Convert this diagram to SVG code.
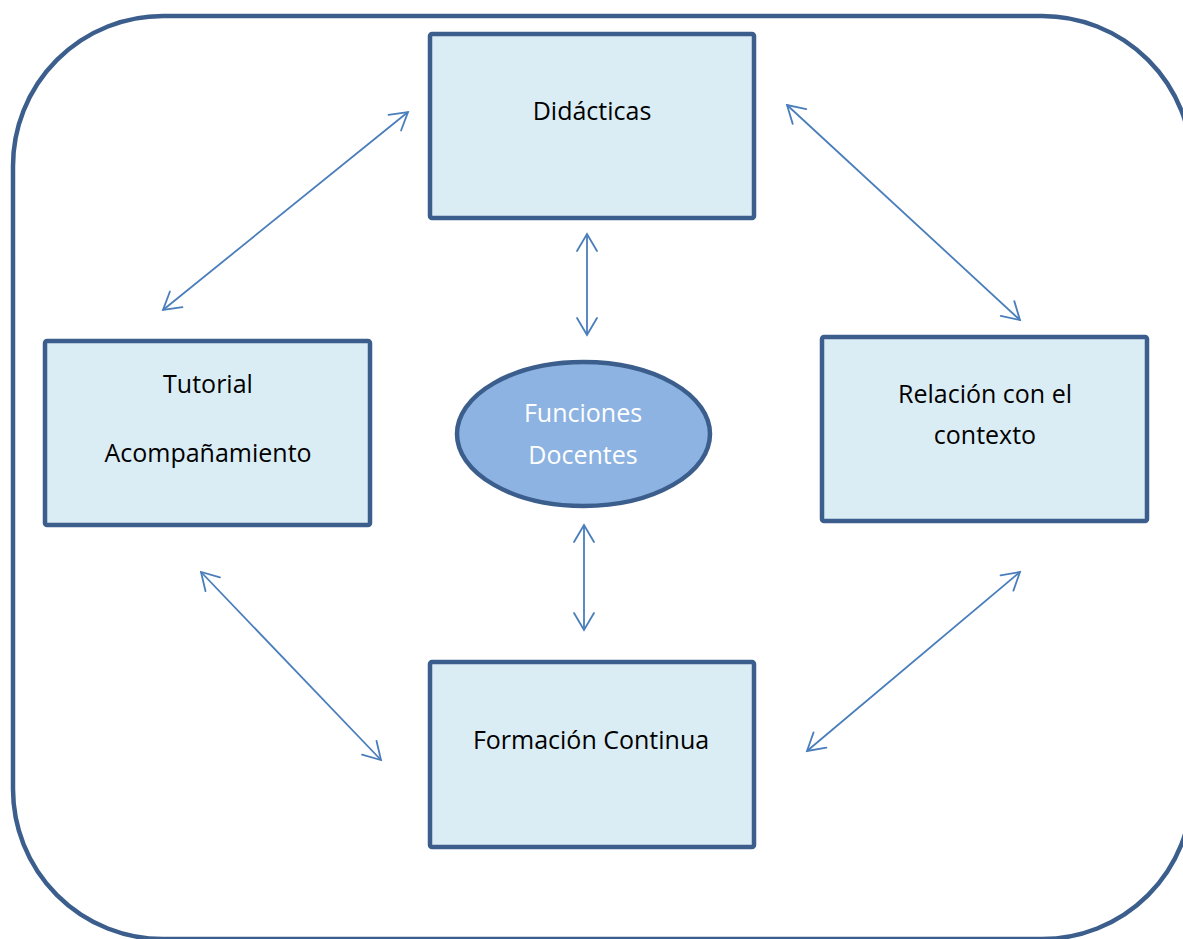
<svg xmlns="http://www.w3.org/2000/svg" width="1183" height="939" viewBox="0 0 1183 939">
  <style>
    .box { fill: #dbedf4; stroke: #3b5e8c; stroke-width: 4.5; }
    .lbl { font-family: "Open Sans", "Liberation Sans", sans-serif; font-size: 25px; fill: #000; text-anchor: middle; }
    .wlbl { font-family: "Open Sans", "Liberation Sans", sans-serif; font-size: 25px; fill: #ffffff; text-anchor: middle; }
    .conn { stroke: #4a7ebb; stroke-width: 1.8; fill: none; marker-start: url(#ah); marker-end: url(#ah); }
  </style>
  <defs>
    <marker id="ah" viewBox="-20 -12 22 24" markerWidth="22" markerHeight="24" refX="0" refY="0" orient="auto-start-reverse" markerUnits="userSpaceOnUse">
      <path d="M-17,-10 L0,0 L-17,10" fill="none" stroke="#4a7ebb" stroke-width="1.8" stroke-linecap="round"/>
    </marker>
  </defs>
  <rect width="1183" height="939" fill="#ffffff"/>
  <g id="frame">
    <rect x="13" y="16" width="1179" height="923" rx="150" ry="150" fill="none" stroke="#3b5e8c" stroke-width="4.5"/>
  </g>
  <g id="connectors">
    <line class="conn" x1="408" y1="112" x2="163" y2="310"/>
    <line class="conn" x1="787" y1="105" x2="1020" y2="320"/>
    <line class="conn" x1="587" y1="234" x2="587" y2="335"/>
    <line class="conn" x1="584" y1="525" x2="584" y2="630"/>
    <line class="conn" x1="201" y1="572" x2="381" y2="760"/>
    <line class="conn" x1="1020" y1="572" x2="807" y2="751"/>
  </g>
  <g id="didacticas">
    <rect class="box" x="430" y="34" width="324" height="184" rx="2"/>
    <text class="lbl" x="592" y="120">Didácticas</text>
  </g>
  <g id="tutorial">
    <rect class="box" x="45" y="341" width="325" height="184" rx="2"/>
    <text class="lbl" x="208" y="393">Tutorial</text>
    <text class="lbl" x="208" y="462">Acompañamiento</text>
  </g>
  <g id="relacion">
    <rect class="box" x="822" y="337" width="325" height="184" rx="2"/>
    <text class="lbl" x="985" y="403">Relación con el</text>
    <text class="lbl" x="985" y="444">contexto</text>
  </g>
  <g id="formacion">
    <rect class="box" x="430" y="662" width="324" height="185" rx="2"/>
    <text class="lbl" x="591" y="749">Formación Continua</text>
  </g>
  <g id="funciones">
    <ellipse cx="583.5" cy="434" rx="126.5" ry="72" fill="#8db3e2" stroke="#3b5e8c" stroke-width="4.5"/>
    <text class="wlbl" x="583" y="422">Funciones</text>
    <text class="wlbl" x="583" y="464">Docentes</text>
  </g>
</svg>
